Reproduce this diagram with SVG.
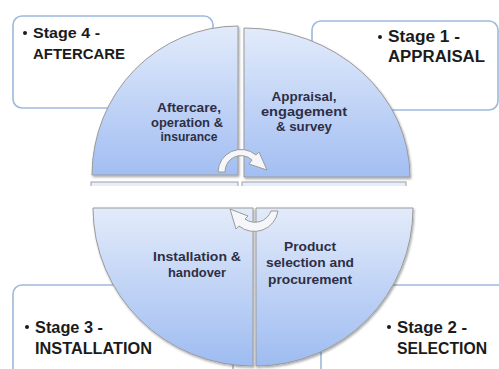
<svg xmlns="http://www.w3.org/2000/svg" width="499" height="369" viewBox="0 0 499 369">
<defs>
<linearGradient id="gTop" x1="0" y1="0" x2="0" y2="1">
<stop offset="0" stop-color="#e2ebfb"/>
<stop offset="1" stop-color="#a2bef2"/>
</linearGradient>
<linearGradient id="gBot" x1="0" y1="0" x2="0" y2="1">
<stop offset="0" stop-color="#e3ebfa"/>
<stop offset="1" stop-color="#9ebcf1"/>
</linearGradient>
<filter id="sh" x="-10%" y="-10%" width="120%" height="120%">
<feDropShadow dx="1" dy="1.5" stdDeviation="1.2" flood-color="#000" flood-opacity="0.35"/>
</filter>
</defs>
<style>
.box{fill:#ffffff;stroke:#9cb9de;stroke-width:1.6}
.q{stroke:#9a9a9a;stroke-width:1;filter:url(#sh)}
.stage{font-family:"Liberation Sans",Arial,sans-serif;font-weight:bold;fill:#1b1b1b}
.lbl{font-family:"Liberation Sans",Arial,sans-serif;font-weight:bold;font-size:12px;fill:#2e2e46;text-anchor:middle}
.arr{fill:#f4f6fa;stroke:#9a9a9a;stroke-width:1}
.strip{fill:#e6eefb;stroke:#a0a0a0;stroke-width:1}
</style>

<g id="stage4">
<rect class="box" x="13" y="16" width="200" height="92" rx="9"/>
<circle cx="25" cy="33" r="2" fill="#1b1b1b"/>
<text class="stage" x="33" y="38" font-size="15" textLength="67" lengthAdjust="spacingAndGlyphs">Stage 4 -</text>
<text class="stage" x="33" y="59" font-size="15" textLength="92" lengthAdjust="spacingAndGlyphs">AFTERCARE</text>
</g>
<g id="stage1">
<rect class="box" x="312" y="21" width="186" height="89" rx="9"/>
<circle cx="380" cy="37" r="2" fill="#1b1b1b"/>
<text class="stage" x="388" y="42" font-size="16" textLength="72" lengthAdjust="spacingAndGlyphs">Stage 1 -</text>
<text class="stage" x="388" y="62" font-size="16" textLength="97" lengthAdjust="spacingAndGlyphs">APPRAISAL</text>
</g>
<g id="stage3">
<rect class="box" x="13" y="285" width="220" height="100" rx="9"/>
<circle cx="27" cy="327" r="2" fill="#1b1b1b"/>
<text class="stage" x="35" y="333" font-size="16" textLength="68" lengthAdjust="spacingAndGlyphs">Stage 3 -</text>
<text class="stage" x="35" y="354" font-size="16" textLength="117" lengthAdjust="spacingAndGlyphs">INSTALLATION</text>
</g>
<g id="stage2">
<rect class="box" x="321" y="285" width="200" height="100" rx="9"/>
<circle cx="389" cy="327" r="2" fill="#1b1b1b"/>
<text class="stage" x="397" y="333" font-size="16" textLength="70" lengthAdjust="spacingAndGlyphs">Stage 2 -</text>
<text class="stage" x="397" y="354" font-size="16" textLength="90" lengthAdjust="spacingAndGlyphs">SELECTION</text>
</g>

<g id="strips">
<rect class="strip" x="91" y="182" width="147" height="8"/>
<rect class="strip" x="242" y="182" width="164" height="8"/>
<rect x="85" y="186" width="330" height="20" fill="#ffffff"/>
</g>

<g id="q-aftercare">
<path class="q" d="M238,175 L92,175 A146,149 0 0 1 238,26 Z" fill="url(#gTop)"/>
<text class="lbl" x="189" y="112" textLength="64" lengthAdjust="spacingAndGlyphs">Aftercare,</text>
<text class="lbl" x="187" y="126.5" textLength="72" lengthAdjust="spacingAndGlyphs">operation &amp;</text>
<text class="lbl" x="189" y="141" textLength="57" lengthAdjust="spacingAndGlyphs">insurance</text>
</g>
<g id="q-appraisal">
<path class="q" d="M244,177 L244,28 A166,149 0 0 1 410,177 Z" fill="url(#gTop)"/>
<text class="lbl" x="304" y="101" textLength="65" lengthAdjust="spacingAndGlyphs">Appraisal,</text>
<text class="lbl" x="304" y="116" textLength="86" lengthAdjust="spacingAndGlyphs">engagement</text>
<text class="lbl" x="304" y="131" textLength="56" lengthAdjust="spacingAndGlyphs">&amp; survey</text>
</g>
<g id="q-installation">
<path class="q" d="M253,208 L253,366 A160,158 0 0 1 93,208 Z" fill="url(#gBot)"/>
<text class="lbl" x="197" y="261" textLength="88" lengthAdjust="spacingAndGlyphs">Installation &amp;</text>
<text class="lbl" x="197" y="277" textLength="58" lengthAdjust="spacingAndGlyphs">handover</text>
</g>
<g id="q-selection">
<path class="q" d="M256,208 L413,208 A157,158 0 0 1 256,366 Z" fill="url(#gBot)"/>
<text class="lbl" x="310" y="251" textLength="52" lengthAdjust="spacingAndGlyphs">Product</text>
<text class="lbl" x="310" y="267" textLength="88" lengthAdjust="spacingAndGlyphs">selection and</text>
<text class="lbl" x="310" y="284" textLength="84" lengthAdjust="spacingAndGlyphs">procurement</text>
</g>

<g id="connectors">
<path class="arr" d="M218,172 A23,23 0 0 1 256,155 L259,152 L267,170 L249,164 L252,160 A16,16 0 0 0 225,172 Z"/>
<path class="arr" d="M278,211 A24,24 0 0 1 239,226 L236,229 L230,209 L248,216 L245,219 A17,17 0 0 0 271,211 Z"/>
</g>
</svg>
